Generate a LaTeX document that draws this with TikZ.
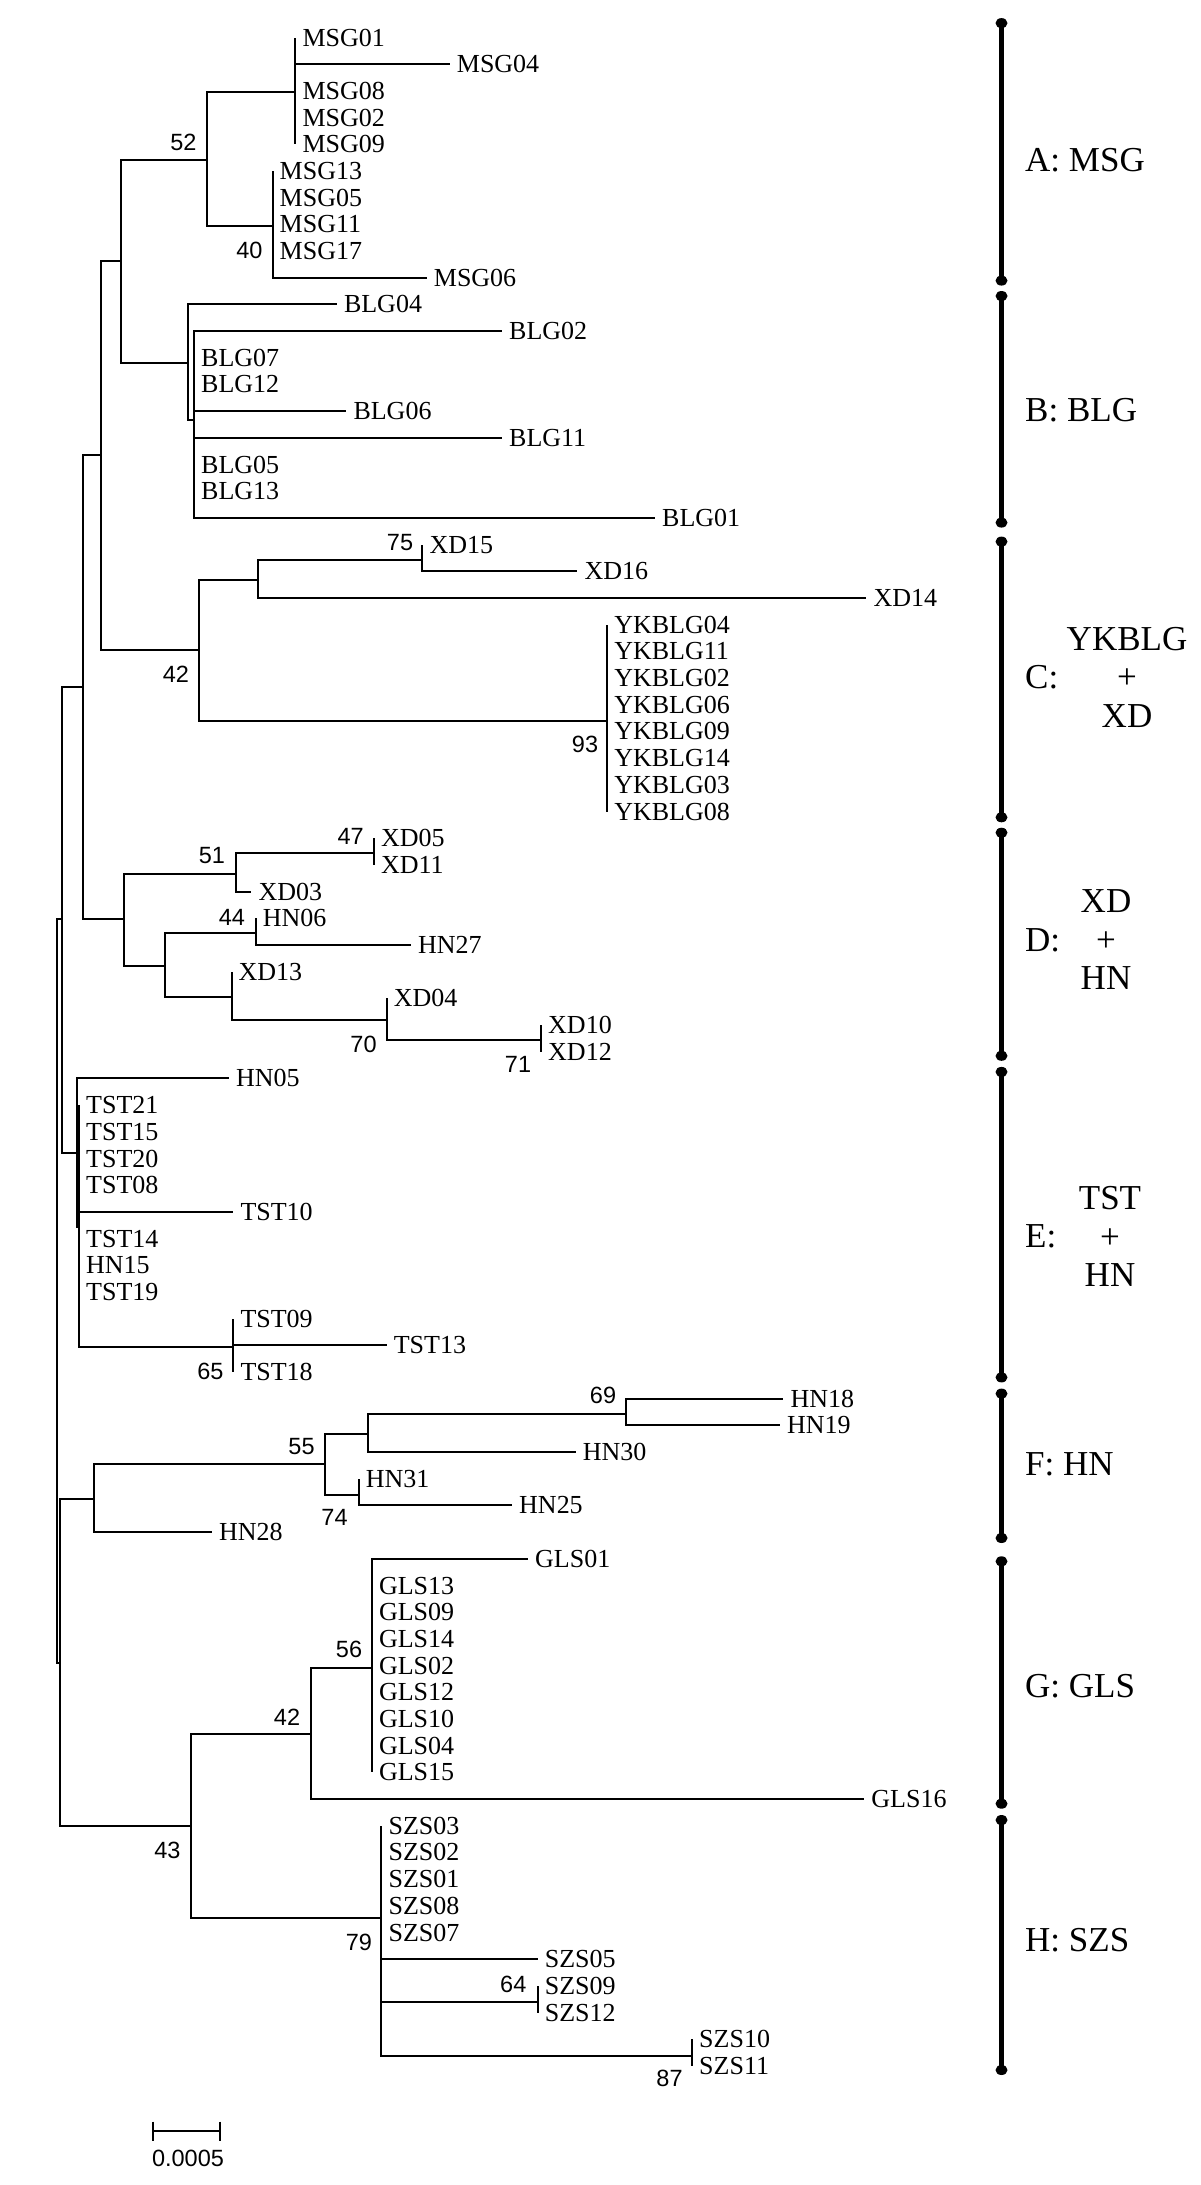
\documentclass[tikz,border=0pt]{standalone}
\usepackage{fontspec}
\setmainfont{Liberation Serif}
\newfontfamily\bootfont{Liberation Sans}
\tikzset{x=1pt, y=-1pt,
    branch/.style={line width=2pt},
    cladebar/.style={line width=4.5pt},
    leaf/.style={anchor=west, inner xsep=7pt, inner ysep=0pt, font=\fontsize{26}{26}\selectfont},
    boot/.style={inner sep=0pt, font=\bootfont\fontsize{23.5}{24}\selectfont},
    clade/.style={inner sep=0pt, font=\fontsize{35}{38.5}\selectfont},
    }

\begin{document}
\begin{tikzpicture}
\useasboundingbox (0,0) rectangle (1200,2185);
% inner nodes
\foreach \nm/\nx/\ny in {nRoot/57/1291.3, nUp/62/919.3, nV/83/686.7, nW/100.5/455.3,
    nAB/120.5/260.7, nMSG/206.7/159.6, nM1/295.4/92.1, nM2/272.5/226,
    nBLG/188.3/363.2, nB2/194/419.6,
    nC/198.7/650, nXD/257.5/580, n75/422.3/560, nYK/607.1/720.7,
    nD/124.2/919.3, n51/236.3/873.5, n47/373.8/853.2, nD2/165.4/965.7,
    n44/255.7/933.2, nD3/231.5/996.7, n70/386.6/1020, n71/541/1040.3,
    nE/77/1153.3, nE2/79/1227, n65/233.3/1347,
    nLow/59.5/1663.3, nF/94/1499.3, n55/325.4/1464.2, nF2/368.4/1433.9,
    n69/626/1414.2, n74/358.7/1494.6,
    n43/191.3/1826.3, n42g/310.6/1734.2, n56/371.8/1667.6, n79/381.4/1918,
    n64/537.7/2001.6, n87/692/2055.5}
    \coordinate (\nm) at (\nx,\ny);
\foreach \p/\c in {nRoot/nUp, nRoot/nLow, nUp/nV, nUp/nE, nV/nW, nV/nD,
    nW/nAB, nW/nC, nAB/nMSG, nAB/nBLG, nMSG/nM1, nMSG/nM2, nBLG/nB2,
    nC/nXD, nC/nYK, nXD/n75, nD/n51, nD/nD2, n51/n47, nD2/n44, nD2/nD3,
    nD3/n70, n70/n71, nE/nE2, nE2/n65, nLow/nF, nLow/n43, nF/n55,
    n55/nF2, n55/n74, nF2/n69, n43/n42g, n43/n79, n42g/n56, n79/n64, n79/n87}
    \draw[branch] (\p) |- (\c);
% leaves
\foreach \nm/\row/\ex/\p in {MSG01/0/295.4/nM1, MSG04/1/449.7/nM1, MSG08/2/295.4/nM1,
    MSG02/3/295.4/nM1, MSG09/4/295.4/nM1,
    MSG13/5/272.5/nM2, MSG05/6/272.5/nM2, MSG11/7/272.5/nM2, MSG17/8/272.5/nM2,
    MSG06/9/426.7/nM2,% A
    BLG04/10/336.8/nBLG, BLG02/11/502/nB2, BLG07/12/194/nB2, BLG12/13/194/nB2,
    BLG06/14/346.3/nB2, BLG11/15/502/nB2, BLG05/16/194/nB2, BLG13/17/194/nB2,
    BLG01/18/655/nB2,% B
    XD15/19/422.3/n75, XD16/20/577.4/n75, XD14/21/866.4/nXD,
    YKBLG04/22/607.1/nYK, YKBLG11/23/607.1/nYK, YKBLG02/24/607.1/nYK,
    YKBLG06/25/607.1/nYK, YKBLG09/26/607.1/nYK, YKBLG14/27/607.1/nYK,
    YKBLG03/28/607.1/nYK, YKBLG08/29/607.1/nYK,% C
    XD05/30/373.8/n47, XD11/31/373.8/n47, XD03/32/251.4/n51,
    HN06/33/255.7/n44, HN27/34/410.8/n44, XD13/35/231.5/nD3,
    XD04/36/386.6/n70, XD10/37/541/n71, XD12/38/541/n71,% D
    HN05/39/229/nE, TST21/40/79/nE2, TST15/41/79/nE2, TST20/42/79/nE2,
    TST08/43/79/nE2, TST10/44/233.3/nE2, TST14/45/79/nE2, HN15/46/79/nE2,
    TST19/47/79/nE2, TST09/48/233.3/n65, TST13/49/386.6/n65, TST18/50/233.3/n65,% E
    HN18/51/783.4/n69, HN19/52/779.8/n69, HN30/53/575.6/nF2,
    HN31/54/358.7/n74, HN25/55/512/n74, HN28/56/212/nF,% F
    GLS01/57/528/n56, GLS13/58/371.8/n56, GLS09/59/371.8/n56, GLS14/60/371.8/n56,
    GLS02/61/371.8/n56, GLS12/62/371.8/n56, GLS10/63/371.8/n56, GLS04/64/371.8/n56,
    GLS15/65/371.8/n56, GLS16/66/864.2/n42g,% G
    SZS03/67/381.4/n79, SZS02/68/381.4/n79, SZS01/69/381.4/n79, SZS08/70/381.4/n79,
    SZS07/71/381.4/n79, SZS05/72/537.7/n79, SZS09/73/537.7/n64, SZS12/74/537.7/n64,
    SZS10/75/692/n87, SZS11/76/692/n87}% H
  {
    \node[leaf] (\nm) at (\ex, {37.5+26.69*\row}) {\nm};
    \draw[branch] (\p) |- (\nm.west);
  }
% bootstrap values
\foreach \nm/\bx/\by/\val in {b52/183.5/142/52, b40/249.5/250/40, b75/400/543/75,
    b42c/176/674.3/42, b93/585/744/93, b51/212/855.7/51, b47/350.7/836/47,
    b44/232/917/44, b70/363.5/1044.2/70, b71/518/1064.6/71, b65/210.5/1371.4/65,
    b69/603/1395.7/69, b55/301.5/1446.4/55, b74/334.5/1517.8/74, b56/349/1649.7/56,
    b42g/287/1717.5/42, b43/167.5/1850.2/43, b79/359/1942.7/79, b64/513.3/1984.5/64,
    b87/669.5/2078.2/87}
    \node[boot] (\nm) at (\bx,\by) {\val};
% scale bar
\coordinate (sbL) at (153,2131.2);
\coordinate (sbR) at (220,2131.2);
\draw[branch] (sbL) -- (sbR);
\draw[branch] ([yshift=9.5pt]sbL) -- ([yshift=-9.5pt]sbL);
\draw[branch] ([yshift=9.5pt]sbR) -- ([yshift=-9.5pt]sbR);
\node[boot] (sbText) at (188,2158) {0.0005};
% clade bars
\foreach \t/\b [count=\i] in {23.1/280.6, 296/522.6, 541.6/817.3, 832.7/1055.8,
    1071.9/1377.4, 1393.6/1538, 1561.3/1803.7, 1820/2070}
  {
    \coordinate (top\i) at (1001.5,\t);
    \coordinate (bot\i) at (1001.5,\b);
    \draw[cladebar] (top\i) -- (bot\i);
    \fill (top\i) ellipse (6pt and 5pt);
    \fill (bot\i) ellipse (6pt and 5pt);
  }
\node[clade, anchor=west] (labA) at (1025,160) {A: MSG};
\node[clade, anchor=west] (labB) at (1025,410.4) {B: BLG};
\node[clade, anchor=west] (labC) at (1025,677) {C:};
\node[clade, align=center] (stkC) at (1127,677) {YKBLG\\+\\XD};
\node[clade, anchor=west] (labD) at (1025,940) {D:};
\node[clade, align=center] (stkD) at (1106,940) {XD\\+\\HN};
\node[clade, anchor=west] (labE) at (1025,1236.4) {E:};
\node[clade, align=center] (stkE) at (1110,1236.4) {TST\\+\\HN};
\node[clade, anchor=west] (labF) at (1025,1464) {F: HN};
\node[clade, anchor=west] (labG) at (1025,1686) {G: GLS};
\node[clade, anchor=west] (labH) at (1025,1939.7) {H: SZS};
\end{tikzpicture}
\end{document}
